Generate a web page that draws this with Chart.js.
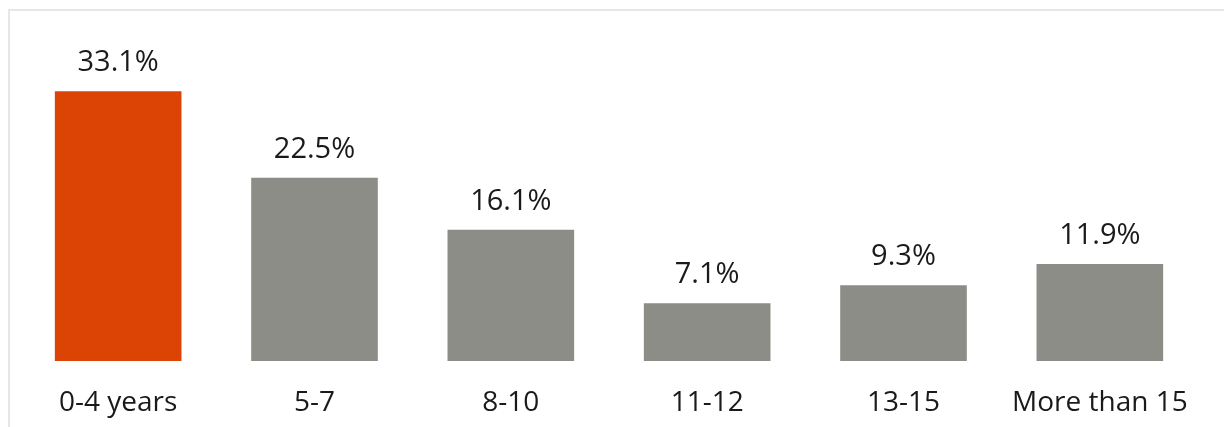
<!DOCTYPE html>
<html>
<head>
<meta charset="utf-8">
<script src="https://cdn.jsdelivr.net/npm/chart.js@4.4.1/dist/chart.umd.min.js"></script>
<style>
    html, body { margin: 0; padding: 0; background: #fff; }
    #wrap { position: relative; width: 1224px; height: 427px; overflow: hidden; }
    #frame {
        position: absolute; left: 8px; top: 9px; right: 0; bottom: 0;
        border-top: 2px solid #e6e6e6;
        border-left: 2px solid #e6e6e6;
    }
    #chart-box { position: absolute; left: 0; top: 0; width: 1224px; height: 427px; }
</style>
</head>
<body>
<div id="wrap">
    <div id="frame"></div>
    <div id="chart-box"><canvas id="tenure-chart"></canvas></div>
</div>
<script>
// --- ข้อมูลของกราฟ ---
const CATEGORIES = ['0-4 years', '5-7', '8-10', '11-12', '13-15', 'More than 15'];
const SHARE_VALUES = [33.1, 22.5, 16.1, 7.1, 9.3, 11.9];
const BAR_COLORS = ['#dc4405', '#8d8d88', '#8d8d88', '#8d8d88', '#8d8d88', '#8d8d88'];

const FONT_FAMILY = '"Open Sans", "Noto Sans", sans-serif';
const TEXT_COLOR = '#1a1a1a';

// plugin เล็ก ๆ สำหรับเขียนค่าเปอร์เซ็นต์เหนือแท่ง
const valueLabels = {
    id: 'valueLabels',
    afterDatasetsDraw(chart) {
        const ctx = chart.ctx;
        const meta = chart.getDatasetMeta(0);
        ctx.save();
        ctx.font = '29px ' + FONT_FAMILY;
        ctx.fillStyle = TEXT_COLOR;
        ctx.textAlign = 'center';
        ctx.textBaseline = 'alphabetic';
        meta.data.forEach((bar, i) => {
            ctx.fillText(SHARE_VALUES[i].toFixed(1) + '%', bar.x, bar.y - 20);
        });
        ctx.restore();
    }
};

const ctx = document.getElementById('tenure-chart').getContext('2d');
const myChart = new Chart(ctx, {
    type: 'bar',
    data: {
        labels: CATEGORIES,
        datasets: [{
            data: SHARE_VALUES,
            backgroundColor: BAR_COLORS,
            borderWidth: 0,
            barPercentage: 0.645,
            categoryPercentage: 1.0
        }]
    },
    options: {
        responsive: true,
        maintainAspectRatio: false,
        animation: false,
        layout: {
            padding: { left: 20, right: 26, top: 35, bottom: 0 }
        },
        scales: {
            y: {
                display: false,
                min: 0,
                max: 40
            },
            x: {
                grid: { display: false, drawTicks: false },
                border: { display: false },
                afterFit(scale) {
                    scale.height = 66; // พื้นที่ป้ายหมวดด้านล่าง
                },
                ticks: {
                    color: TEXT_COLOR,
                    padding: 25,
                    maxRotation: 0,
                    autoSkip: false,
                    font: { family: FONT_FAMILY, size: 28 }
                }
            }
        },
        plugins: {
            legend: { display: false },
            tooltip: { enabled: false }
        }
    },
    plugins: [valueLabels]
});
</script>
</body>
</html>
